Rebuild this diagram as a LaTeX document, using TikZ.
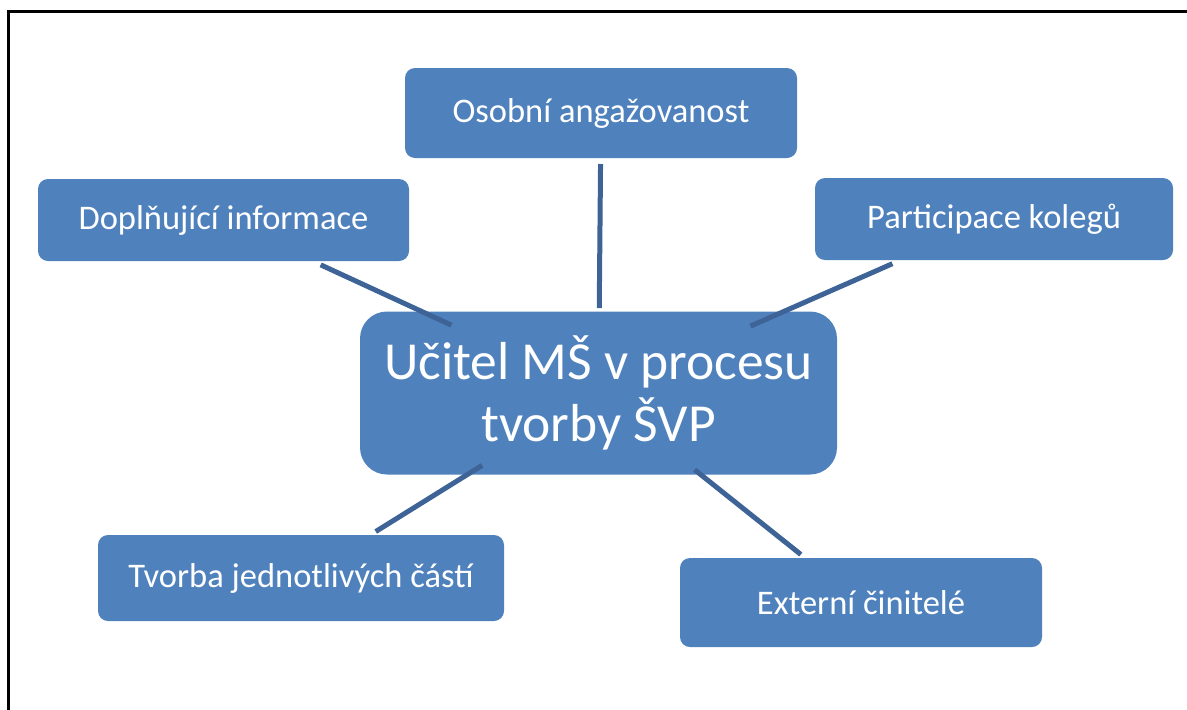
\documentclass[tikz,border=0pt]{standalone}
\usepackage{fontspec}
\setmainfont{Carlito}
\usetikzlibrary{calc}
\definecolor{boxblue}{RGB}{79,129,189}
\definecolor{linkblue}{RGB}{62,99,150}

\begin{document}
\begin{tikzpicture}[x=1pt,y=-1pt,
        item/.style={fill=boxblue,text=white,rounded corners=10pt,inner sep=0pt,
            align=center,font=\fontsize{34.5}{40}\selectfont},
        link/.style={draw=linkblue,line width=5pt}]
    \useasboundingbox (0,0) rectangle (1187,710);
    \draw[line width=3pt] (8,710) -- (8,11) -- (1187,11);
    \node[item,minimum width=477pt,minimum height=163pt,rounded corners=27pt,
        font=\fontsize{53.5}{62}\selectfont] (ucitel) at (598.5,393)
        {Učitel MŠ v procesu\\tvorby ŠVP};
    \node[item,minimum width=392pt,minimum height=90pt] (osob) at (601,113) {Osobní angažovanost};
    \node[item,minimum width=371pt,minimum height=82pt] (dopl) at (223.5,220) {Doplňující informace};
    \node[item,minimum width=358pt,minimum height=82pt] (part) at (994,219) {Participace kolegů};
    \node[item,minimum width=406pt,minimum height=86pt] (tvorba) at (301,578) {Tvorba jednotlivých částí};
    \node[item,minimum width=362pt,minimum height=89pt] (ext) at (861,602.5) {Externí činitelé};
    \draw[link] ($(osob.center)!51pt!(ucitel.center)$) -- ($(ucitel.center)!85pt!(osob.center)$);
    \draw[link] ($(dopl.center)!107pt!(ucitel.center)$) -- ($(ucitel.center)!162pt!(dopl.center)$);
    \draw[link] ($(part.center)!111pt!(ucitel.center)$) -- ($(ucitel.center)!166pt!(part.center)$);
    \draw[link] ($(tvorba.center)!88pt!(ucitel.center)$) -- ($(ucitel.center)!137pt!(tvorba.center)$);
    \draw[link] ($(ext.center)!77pt!(ucitel.center)$) -- ($(ucitel.center)!123pt!(ext.center)$);
\end{tikzpicture}
\end{document}
